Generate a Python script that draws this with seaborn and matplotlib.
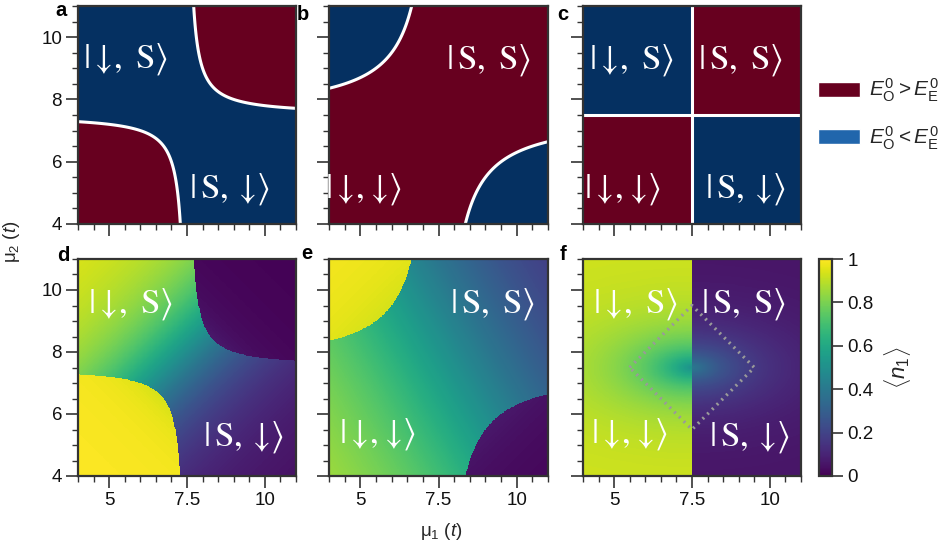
import numpy as np
import matplotlib
matplotlib.use("Agg")
import matplotlib.pyplot as plt
from matplotlib.colors import ListedColormap
from matplotlib.patches import Patch
from matplotlib.ticker import FixedLocator
import seaborn as sns

sns.set_theme(style="ticks")
plt.rcParams.update({
    "font.family": ["Liberation Sans", "DejaVu Sans"],
    "mathtext.fontset": "custom",
    "mathtext.rm": "Liberation Sans",
    "mathtext.it": "Liberation Sans:italic",
    "mathtext.bf": "Liberation Sans:bold",
    "axes.edgecolor": "#333333",
    "xtick.color": "#333333",
    "ytick.color": "#333333",
    "xtick.labelcolor": "#111111",
    "ytick.labelcolor": "#111111",
})

# ---- chemical-potential window (units of t) ----
mu_min, mu_max = 4.0, 11.0
mu_mid = 7.5
n_grid = 400

x_ticks = [5, 7.5, 10]
x_ticklabels = ["5", "7.5", "10"]
y_ticks = [4, 6, 8, 10]
y_ticklabels = ["4", "6", "8", "10"]
minor_ticks = np.arange(4.0, 11.01, 0.5)
cbar_ticks = [0, 0.2, 0.4, 0.6, 0.8, 1]
cbar_ticklabels = ["0", "0.2", "0.4", "0.6", "0.8", "1"]

# ---- parity boundaries: (mu1 - 7.5)(mu2 - 7.5) = threshold ----
threshold_a = 0.75
threshold_b = -3.0
threshold_c = 0.0

# ---- occupation model parameters ----
d_offset, d_odd_width, d_even_width = 0.6, 3.5, 1.0
e_slope, e_x0, e_y0, e_even_width, e_odd_width = 1.77, 8.0, 7.6, 10.9, 2.0
f_scale_x, f_scale_y = 1.8, 0.9
f_left_far, f_left_dip = 0.93, 0.43
f_right_far, f_right_bump = 0.05, 0.35

# dotted square rotated by 45 degrees in panel f
diamond_mu1 = [5.5, 7.5, 9.5, 7.5, 5.5]
diamond_mu2 = [7.5, 9.5, 7.5, 5.5, 7.5]

# state labels: (mu1, mu2, text); \! trims the relation padding of the arrow
ket_dS = r"$|\downarrow\!,\ \mathrm{S}\rangle$"
ket_Sd = r"$|\,\mathrm{S},\ \!\!\downarrow\!\rangle$"
ket_SS = r"$|\,\mathrm{S},\ \mathrm{S}\rangle$"
ket_dd = r"$|\downarrow\!,\!\downarrow\!\rangle$"
labels_a = [(5.53, 9.31, ket_dS), (8.85, 5.11, ket_Sd)]
labels_b = [(9.11, 9.26, ket_SS), (5.10, 5.11, ket_dd)]
labels_c = [(5.56, 9.26, ket_dS), (9.05, 9.26, ket_SS),
            (5.26, 5.11, ket_dd), (9.23, 5.11, ket_Sd)]
labels_d = [(5.69, 9.55, ket_dS), (9.32, 5.24, ket_Sd)]
labels_e = [(9.24, 9.55, ket_SS), (5.56, 5.34, ket_dd)]
labels_f = [(5.69, 9.55, ket_dS), (9.16, 9.55, ket_SS),
            (5.50, 5.34, ket_dd), (9.34, 5.26, ket_Sd)]

red = "#67001f"
blue = "#053061"
legend_blue = "#2166ac"

# ---- grid ----
mu = mu_min + (np.arange(n_grid) + 0.5) * (mu_max - mu_min) / n_grid
X, Y = np.meshgrid(mu, mu)
P = (X - mu_mid) * (Y - mu_mid)

g_a = P - threshold_a
g_b = P - threshold_b
g_c = P - threshold_c
even_a, even_b, even_c = g_a > 0, g_b > 0, g_c > 0

# panel d
det = X - Y + d_offset
s = X + Y - 2 * mu_mid
n_d = np.where(even_a,
               0.5 * (1 - s / np.sqrt(s**2 + d_even_width**2)),
               0.5 * (1 - det / np.sqrt(det**2 + d_odd_width**2)))
# panel e
s_e = e_slope * (X - e_x0) + (Y - e_y0)
det_e = X - Y
n_e = np.where(even_b,
               0.5 * (1 - s_e / np.sqrt(s_e**2 + e_even_width**2)),
               0.5 * (1 - det_e / np.sqrt(det_e**2 + e_odd_width**2)))
# panel f
r = np.sqrt(((X - mu_mid) / f_scale_x)**2 + ((Y - mu_mid) / f_scale_y)**2)
n_f = np.where(X < mu_mid,
               f_left_far - f_left_dip * np.exp(-r),
               f_right_far + f_right_bump * np.exp(-r))


def to_idx(v):
    return (np.asarray(v, dtype=float) - mu_min) / (mu_max - mu_min) * n_grid


W, H = 942, 547
fig = plt.figure(figsize=(W / 100, H / 100), dpi=100)


def rect(x0, y0, x1, y1):
    return [x0 / W, 1 - y1 / H, (x1 - x0) / W, (y1 - y0) / H]


def style_axes(ax, xlabels, ylabels):
    for sp in ax.spines.values():
        sp.set_visible(True)
        sp.set_linewidth(1.6)
        sp.set_color("#333333")
    ax.set_xlim(0, n_grid)
    ax.set_ylim(0, n_grid)
    ax.set_xticks(to_idx(x_ticks))
    ax.set_xticklabels(x_ticklabels if xlabels else [])
    ax.set_yticks(to_idx(y_ticks))
    ax.set_yticklabels(y_ticklabels if ylabels else [])
    ax.xaxis.set_minor_locator(FixedLocator(to_idx(minor_ticks)))
    ax.yaxis.set_minor_locator(FixedLocator(to_idx(minor_ticks)))
    ax.tick_params(which="both", direction="out", bottom=True, left=True,
                   top=False, right=False, color="#333333")
    ax.tick_params(which="major", length=8.5, width=1.2, labelsize=13.5, pad=3,
                   labelrotation=0)
    ax.tick_params(which="minor", length=4.3, width=1.0)


def put_labels(ax, items):
    for m1, m2, txt in items:
        ax.text(to_idx(m1), to_idx(m2), txt, color="white", fontsize=25,
                ha="center", va="center", math_fontfamily="stix")


idx_c = np.arange(n_grid) + 0.5
binary_cmap = ListedColormap([blue, red])

panels = [
    ("a", (78, 6, 296, 224), even_a, g_a, labels_a, False, True),
    ("b", (329, 6, 548, 224), even_b, g_b, labels_b, False, False),
    ("c", (583, 6, 801, 224), even_c, None, labels_c, False, False),
]
for letter, box, even, g, labs, xl, yl in panels:
    ax = fig.add_axes(rect(*box))
    sns.heatmap(even.astype(float), ax=ax, cmap=binary_cmap, vmin=0, vmax=1,
                cbar=False, xticklabels=False, yticklabels=False,
                rasterized=True)
    ax.invert_yaxis()
    if g is not None:
        ax.contour(idx_c, idx_c, g, levels=[0], colors="white", linewidths=2.2)
    else:
        ax.axvline(to_idx(mu_mid), color="white", lw=2.2)
        ax.axhline(to_idx(mu_mid), color="white", lw=2.2)
    style_axes(ax, xl, yl)
    put_labels(ax, labs)

cax = fig.add_axes(rect(819, 259, 832, 476))
bottom = [
    ("d", (78, 259, 296, 476), n_d, labels_d, True),
    ("e", (329, 259, 548, 476), n_e, labels_e, False),
    ("f", (583, 259, 801, 476), n_f, labels_f, False),
]
for letter, box, field, labs, yl in bottom:
    ax = fig.add_axes(rect(*box))
    last = letter == "f"
    sns.heatmap(field, ax=ax, cmap="viridis", vmin=0, vmax=1,
                cbar=last, cbar_ax=cax if last else None,
                xticklabels=False, yticklabels=False, rasterized=True)
    ax.invert_yaxis()
    if last:
        ax.plot(to_idx(diamond_mu1), to_idx(diamond_mu2), color="#9a9a9a",
                lw=2.4, linestyle=(0, (0.6, 1.4)))
        cbar = ax.collections[0].colorbar
    style_axes(ax, True, yl)
    put_labels(ax, labs)

cbar.set_ticks(cbar_ticks)
cbar.set_ticklabels(cbar_ticklabels)
cbar.outline.set_visible(True)
cbar.outline.set_linewidth(1.6)
cbar.outline.set_edgecolor("#333333")
cax.tick_params(direction="out", length=8, width=1.2, labelsize=13.5, pad=3,
                right=True, color="#333333")
cbar.set_label(r"$\langle n_1\rangle$", fontsize=16, labelpad=6)

# panel letters
for letter, px, py in [("a", 67, 16), ("b", 309, 20), ("c", 568, 20),
                       ("d", 70, 261), ("e", 312, 259), ("f", 566, 260)]:
    fig.text(px / W, 1 - py / H, letter, fontsize=14.5, fontweight="bold",
             ha="right", va="baseline", color="black")

fig.text(12 / W, 1 - 242 / H, r"$\mathrm{μ}_2\ (t)$", rotation=90,
         fontsize=13.5, ha="center", va="center")
fig.text(441 / W, 1 - 531 / H, r"$\mathrm{μ}_1\ (t)$",
         fontsize=13.5, ha="center", va="center")

handles = [Patch(facecolor=red), Patch(facecolor=legend_blue)]
texts = [r"$E^0_\mathrm{O} > E^0_\mathrm{E}$", r"$E^0_\mathrm{O} < E^0_\mathrm{E}$"]
fig.legend(handles, texts, loc="upper left", bbox_to_anchor=(818 / W, 1 - 77 / H),
           frameon=False, fontsize=15, handlelength=2.0, handleheight=0.7,
           handletextpad=0.45, labelspacing=0.95, borderpad=0, borderaxespad=0)

fig.savefig("out.png", dpi=100)
